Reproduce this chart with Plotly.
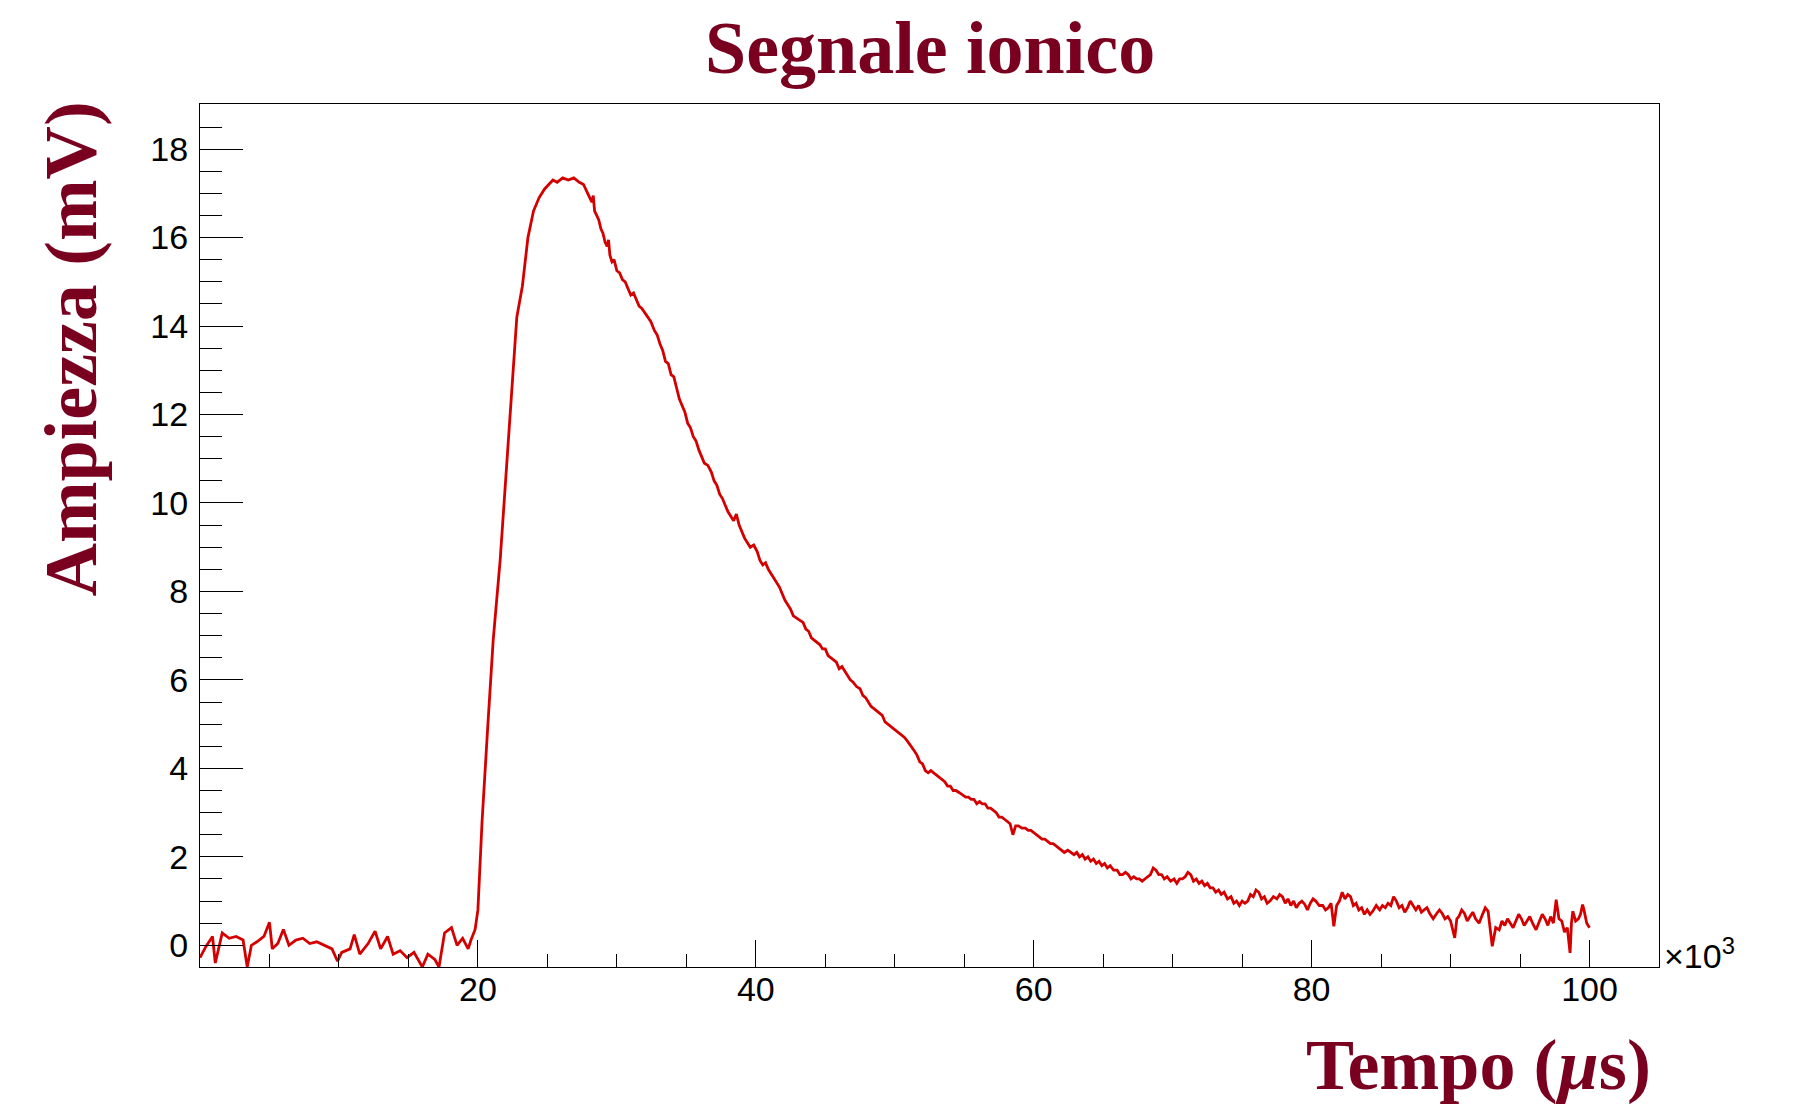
import plotly.graph_objects as go

# Time in units of 10^3 microseconds, amplitude in mV
tempo_base = [
    0.0, 0.4, 0.9, 1.1, 1.6, 2.1, 2.6, 3.1, 3.4, 3.7,
    4.1, 4.6, 5.0, 5.2, 5.6, 6.0, 6.4, 6.9, 7.4, 7.9,
    8.4, 9.0, 9.5, 9.9, 10.2, 10.8, 11.1, 11.5, 12.1, 12.6,
    13.0, 13.5, 13.9, 14.4, 14.9, 15.4, 16.0, 16.4, 16.9, 17.2,
    17.6, 18.1, 18.5, 18.9, 19.3, 19.5, 19.8, 20.0,
]
amp_base = [
    -0.28, -0.04, 0.2, -0.4, 0.28, 0.16, 0.2, 0.12, -0.49, 0.0,
    0.08, 0.2, 0.52, -0.08, 0.04, 0.36, 0.0, 0.12, 0.16, 0.04,
    0.08, 0.0, -0.08, -0.36, -0.16, -0.08, 0.24, -0.2, 0.04, 0.32,
    -0.08, 0.2, -0.2, -0.12, -0.28, -0.16, -0.49, -0.2, -0.32, -0.49,
    0.28, 0.4, 0.0, 0.16, -0.08, 0.12, 0.36, 0.8,
]

tempo_rise = [
    20.3, 20.7, 21.1, 21.6, 22.0, 22.4, 22.8, 23.2, 23.6, 24.0,
    24.4, 24.8, 25.1, 25.4, 25.7, 26.1, 26.5, 26.9, 27.3, 27.6,
    27.9,
]
amp_rise = [
    2.8, 4.9, 6.9, 8.7, 10.5, 12.5, 14.2, 14.9, 16.0, 16.6,
    16.9, 17.1, 17.2, 17.3, 17.25, 17.35, 17.3, 17.35, 17.25, 17.2,
    17.0,
]

tempo_decay = [
    28.2, 28.3, 28.4, 28.55, 28.7, 28.85, 29.0, 29.15, 29.3, 29.4,
    29.5, 29.65, 29.8, 30.0, 30.2, 30.4, 30.6, 30.8, 31.0, 31.2,
    31.4, 31.6, 31.8, 32.0, 32.2, 32.45, 32.7, 32.9, 33.1, 33.3,
    33.5, 33.7, 33.9, 34.1, 34.3, 34.5, 34.7, 34.9, 35.1, 35.3,
    35.5, 35.7, 35.9, 36.1, 36.3, 36.55, 36.8, 37.0, 37.2, 37.4,
    37.6, 37.8, 38.0, 38.2, 38.4, 38.6, 38.8, 39.0, 39.2, 39.4,
    39.6, 39.85, 40.1, 40.3, 40.5, 40.7, 40.9, 41.1, 41.3, 41.5,
    41.7, 41.9, 42.1, 42.3, 42.5, 42.7, 42.9, 43.15, 43.4, 43.6,
    43.8, 44.0, 44.2, 44.4, 44.6, 44.8, 45.0, 45.2, 45.4, 45.6,
    45.8, 46.0, 46.2, 46.4, 46.6, 46.8, 47.0, 47.25, 47.5, 47.7,
    47.9, 48.1, 48.3, 48.5, 48.7, 48.9, 49.1, 49.3, 49.5, 49.7,
    49.9, 50.1, 50.3, 50.5, 50.7, 50.95, 51.2, 51.4, 51.6, 51.8,
    52.0, 52.2, 52.4, 52.6, 52.8, 53.0, 53.2, 53.4, 53.6, 53.8,
    54.0, 54.2, 54.4, 54.65, 54.9, 55.1, 55.3, 55.5, 55.7, 55.9,
    56.1, 56.3, 56.5, 56.7, 56.9, 57.1, 57.3, 57.5, 57.7, 57.9,
    58.1, 58.3, 58.5, 58.7, 58.9, 59.15, 59.4, 59.6, 59.8, 60.0,
    60.2, 60.4, 60.6, 60.8, 61.0, 61.2, 61.4, 61.6, 61.8, 62.0,
    62.2, 62.45, 62.7, 62.9, 63.1, 63.3, 63.5, 63.7, 63.9, 64.1,
    64.3, 64.5, 64.7, 64.9, 65.1, 65.3, 65.5, 65.75, 66.0, 66.2,
    66.4, 66.6, 66.8, 67.0, 67.2, 67.4, 67.6, 67.8, 68.0, 68.2,
    68.4, 68.6, 68.8, 69.0, 69.2, 69.4, 69.6, 69.85, 70.1, 70.3,
    70.5, 70.7, 70.9, 71.1, 71.3, 71.5, 71.7, 71.9, 72.1, 72.3,
    72.5, 72.7, 72.9, 73.1, 73.3, 73.5, 73.7, 73.95, 74.2, 74.4,
    74.6, 74.8, 75.0, 75.2, 75.4, 75.6, 75.8, 76.0, 76.2, 76.4,
    76.6, 76.8, 77.0, 77.25, 77.5, 77.7, 77.9, 78.1, 78.3, 78.5,
    78.7, 78.9, 79.1, 79.3, 79.5, 79.7, 79.9, 80.1, 80.3, 80.55,
    80.8, 81.0, 81.2, 81.4, 81.6, 81.8, 82.0, 82.2, 82.4, 82.6,
    82.8, 83.0, 83.2, 83.4, 83.6, 83.8, 84.0, 84.2, 84.4, 84.65,
    84.9, 85.1, 85.3, 85.5, 85.7, 85.9, 86.1, 86.3, 86.5, 86.7,
    86.9, 87.1, 87.3, 87.5, 87.7, 87.9, 88.1, 88.3, 88.5, 88.75,
    89.0, 89.2, 89.4, 89.6, 89.8, 90.0, 90.3, 90.45, 90.6, 90.8,
    91.0, 91.2, 91.4, 91.6, 91.8, 92.05, 92.3, 92.5, 92.7, 92.85,
    93.0, 93.25, 93.5, 93.7, 93.9, 94.1, 94.3, 94.5, 94.7, 94.9,
    95.1, 95.3, 95.5, 95.7, 95.9, 96.15, 96.4, 96.6, 96.8, 97.0,
    97.2, 97.4, 97.6, 97.8, 98.0, 98.2, 98.4, 98.6, 98.7, 98.8,
    99.0, 99.2, 99.35, 99.5, 99.6, 99.8, 100.0,
]
amp_decay = [
    16.8, 16.95, 16.6, 16.5, 16.4, 16.2, 16.1, 15.9, 15.8, 15.95,
    15.6, 15.45, 15.5, 15.25, 15.2, 15.05, 15.0, 14.85, 14.7, 14.75,
    14.6, 14.45, 14.4, 14.3, 14.2, 14.1, 13.9, 13.8, 13.6, 13.45,
    13.2, 13.15, 12.9, 12.85, 12.6, 12.35, 12.2, 12.05, 11.8, 11.7,
    11.5, 11.4, 11.2, 11.05, 10.9, 10.85, 10.7, 10.5, 10.4, 10.2,
    10.1, 9.95, 9.8, 9.7, 9.6, 9.75, 9.5, 9.35, 9.2, 9.1,
    9.0, 9.05, 8.9, 8.7, 8.6, 8.65, 8.5, 8.4, 8.3, 8.2,
    8.1, 7.95, 7.8, 7.7, 7.6, 7.45, 7.4, 7.35, 7.3, 7.15,
    7.1, 6.95, 6.9, 6.85, 6.8, 6.7, 6.7, 6.55, 6.5, 6.45,
    6.4, 6.25, 6.3, 6.2, 6.1, 6.0, 5.95, 5.85, 5.8, 5.65,
    5.6, 5.5, 5.4, 5.35, 5.3, 5.25, 5.2, 5.05, 5.0, 4.95,
    4.9, 4.85, 4.8, 4.75, 4.7, 4.6, 4.5, 4.4, 4.3, 4.15,
    4.1, 3.95, 3.9, 3.95, 3.9, 3.85, 3.8, 3.75, 3.7, 3.6,
    3.6, 3.5, 3.5, 3.45, 3.4, 3.35, 3.35, 3.3, 3.3, 3.2,
    3.25, 3.2, 3.2, 3.1, 3.1, 3.05, 3.0, 2.9, 2.9, 2.85,
    2.8, 2.75, 2.5, 2.7, 2.7, 2.65, 2.65, 2.6, 2.6, 2.55,
    2.5, 2.45, 2.4, 2.4, 2.35, 2.3, 2.3, 2.25, 2.2, 2.15,
    2.1, 2.15, 2.1, 2.05, 2.1, 2.0, 2.05, 1.95, 2.0, 1.9,
    1.95, 1.85, 1.9, 1.8, 1.85, 1.75, 1.8, 1.7, 1.7, 1.6,
    1.6, 1.65, 1.6, 1.5, 1.55, 1.5, 1.5, 1.45, 1.5, 1.55,
    1.6, 1.75, 1.7, 1.6, 1.6, 1.5, 1.55, 1.45, 1.5, 1.4,
    1.5, 1.5, 1.55, 1.65, 1.6, 1.45, 1.5, 1.4, 1.45, 1.35,
    1.4, 1.3, 1.3, 1.2, 1.25, 1.15, 1.2, 1.05, 1.1, 0.95,
    1.0, 0.9, 1.0, 0.95, 1.0, 1.15, 1.1, 1.25, 1.2, 1.05,
    1.1, 0.95, 1.0, 1.1, 1.05, 1.15, 1.1, 0.95, 1.05, 0.9,
    1.0, 0.85, 0.95, 1.0, 0.93, 0.8, 0.95, 1.05, 1.0, 0.9,
    0.9, 0.8, 0.85, 0.95, 0.43, 0.9, 1.0, 1.2, 1.05, 1.15,
    1.1, 0.9, 0.95, 0.8, 0.85, 0.7, 0.8, 0.7, 0.77, 0.9,
    0.8, 0.9, 0.85, 0.95, 0.9, 1.1, 1.0, 0.85, 0.9, 0.75,
    0.85, 1.0, 0.9, 0.8, 0.9, 0.75, 0.8, 0.85, 0.72, 0.6,
    0.72, 0.8, 0.72, 0.6, 0.65, 0.55, 0.17, 0.6, 0.65, 0.8,
    0.72, 0.55, 0.65, 0.75, 0.6, 0.5, 0.7, 0.85, 0.77, 0.4,
    -0.02, 0.4, 0.35, 0.55, 0.45, 0.6, 0.5, 0.4, 0.55, 0.7,
    0.6, 0.45, 0.55, 0.65, 0.5, 0.35, 0.55, 0.7, 0.6, 0.45,
    0.65, 0.5, 1.03, 0.6, 0.55, 0.3, 0.4, -0.17, 0.5, 0.77,
    0.55, 0.6, 0.7, 0.92, 0.8, 0.5, 0.4,
]

x_major = [20, 40, 60, 80, 100]
x_minor = [5, 10, 15, 25, 30, 35, 45, 50, 55, 65, 70, 75, 85, 90, 95]
y_major = [0, 2, 4, 6, 8, 10, 12, 14, 16, 18]
y_minor = [-0.5, 0.5, 1, 1.5, 2.5, 3, 3.5, 4.5, 5, 5.5, 6.5, 7, 7.5, 8.5, 9, 9.5,
           10.5, 11, 11.5, 12.5, 13, 13.5, 14.5, 15, 15.5, 16.5, 17, 17.5, 18.5]

tempo = tempo_base + tempo_rise + tempo_decay
ampiezza = amp_base + amp_rise + amp_decay

DARK = "#7a0020"
RED = "#d40000"

fig = go.Figure()
fig.add_trace(go.Scatter(
    x=tempo, y=ampiezza, mode="lines",
    line=dict(color=RED, width=2.8), showlegend=False, hoverinfo="skip",
))

# the page body adds an 8 px margin, so figure coords = page coords - 8
W, H = 1785, 1101
L, R, T, B = 192, 1651, 96, 959

fig.update_layout(
    width=W, height=H,
    margin=dict(l=L, r=W - R, t=T, b=H - B, pad=0),
    paper_bgcolor="white", plot_bgcolor="white",
    font=dict(family="Liberation Sans, Arial, sans-serif", size=34, color="black"),
    xaxis=dict(
        range=[0, 105], showgrid=False, zeroline=False,
        showline=True, linecolor="black", linewidth=1, mirror=True,
        tickmode="array", tickvals=x_major, ticktext=[str(v) for v in x_major],
        ticks="inside", ticklen=27, tickwidth=1, tickcolor="black",
        minor=dict(tickmode="array", tickvals=x_minor, ticks="inside", ticklen=13,
                   tickwidth=1, tickcolor="black", showgrid=False),
        tickfont=dict(size=34, family="Liberation Sans, Arial, sans-serif"),
        ticklabelstandoff=-8,
    ),
    yaxis=dict(
        range=[-0.49, 19.02], showgrid=False, zeroline=False,
        showline=True, linecolor="black", linewidth=1, mirror=True,
        tickmode="array", tickvals=y_major, ticktext=[str(v) for v in y_major],
        ticks="inside", ticklen=43, tickwidth=1, tickcolor="black",
        minor=dict(tickmode="array", tickvals=y_minor, ticks="inside", ticklen=22,
                   tickwidth=1, tickcolor="black", showgrid=False),
        tickfont=dict(size=34, family="Liberation Sans, Arial, sans-serif"),
        ticklabelstandoff=4,
    ),
)

pw, ph = R - L, B - T
serif = "Liberation Serif, Times New Roman, serif"

fig.add_annotation(
    text="<b>Segnale ionico</b>", xref="paper", yref="paper",
    x=0.5, y=(B - 40) / ph, xanchor="center", yanchor="middle", showarrow=False,
    font=dict(family=serif, size=74, color=DARK),
)
fig.add_annotation(
    text="<b>Ampiezza (mV)</b>", xref="paper", yref="paper", textangle=-90,
    x=(63 - L) / pw, y=(B - 92) / ph, xanchor="center", yanchor="top", showarrow=False,
    font=dict(family=serif, size=74, color=DARK),
)
fig.add_annotation(
    text="<b>Tempo (<i>µ</i>s)</b>", xref="paper", yref="paper",
    x=(1645 - L) / pw, y=(B - 1057) / ph, xanchor="right", yanchor="middle", showarrow=False,
    font=dict(family=serif, size=72, color=DARK),
)
fig.add_annotation(
    text="×10<sup>3</sup>", xref="paper", yref="paper",
    x=(1654 - L) / pw, y=0, xanchor="left", yanchor="bottom", yshift=-10, showarrow=False,
    font=dict(family="Liberation Sans, Arial, sans-serif", size=34, color="black"),
)

fig.write_html("out.html")
